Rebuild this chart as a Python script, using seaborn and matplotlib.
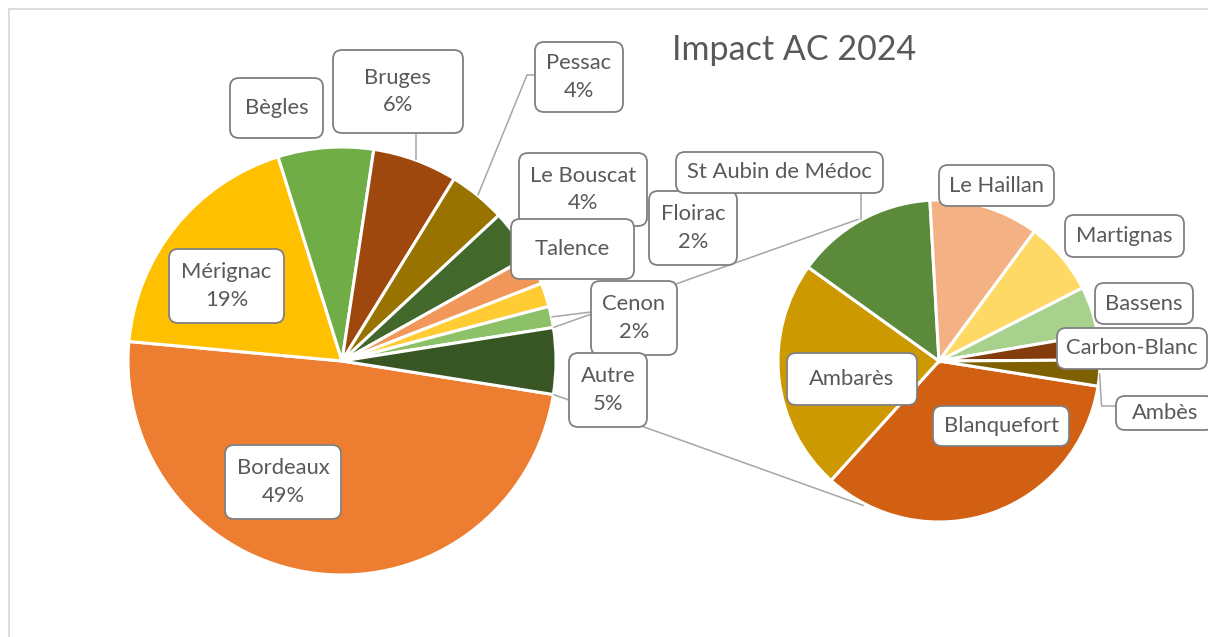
import matplotlib
matplotlib.use("Agg")
import matplotlib.pyplot as plt
import seaborn as sns
import numpy as np
from matplotlib.patches import FancyBboxPatch, Rectangle

# ---------------- data ----------------
title = "Impact AC 2024"
main_labels = ["Bordeaux", "Mérignac", "Bègles", "Bruges", "Pessac",
               "Le Bouscat", "Talence", "Floirac", "Cenon"]
main_values = [48.9, 18.7, 7.2, 6.4, 4.3, 3.8, 2.2, 1.8, 1.6]
main_show_pct = [True, True, False, True, True, True, False, True, True]
main_colors = ["#ED7D31", "#FFC000", "#70AD47", "#9E480E", "#997300",
               "#43682B", "#F1975A", "#FFCD33", "#8CC168"]
autre_label = "Autre"
autre_color = "#375623"
other_labels = ["Blanquefort", "Ambarès", "St Aubin de Médoc", "Le Haillan",
                "Martignas", "Bassens", "Carbon-Blanc", "Ambès"]
other_values = [1.71, 1.16, 0.71, 0.55, 0.37, 0.24, 0.13, 0.13]
other_colors = ["#D26012", "#CC9A00", "#5A8A3A", "#F4B183",
                "#FFD966", "#A9D18E", "#843C0C", "#7F6000"]

# ---------------- style ----------------
sns.set_theme(style="white")
plt.rcParams['font.family'] = ['Lato', 'DejaVu Sans']
TXT = "#595959"
EDGE = "#808080"
LEAD = "#A6A6A6"

W, H = 1208, 637
fig = plt.figure(figsize=(W / 100, H / 100), dpi=100)
ax = fig.add_axes([0, 0, 1, 1])


def P(x, y):
    return (x, H - y)


c1, r1 = P(342, 361), 214
c2, r2 = P(939, 361), 161

autre_value = sum(other_values)
vals1 = main_values + [autre_value]
cols1 = sns.color_palette(main_colors + [autre_color])
total = sum(vals1)
start1 = -0.5 * 360 * autre_value / total

wp = dict(edgecolor="white", linewidth=2.2)
w1, _ = ax.pie(vals1, colors=cols1, startangle=start1, counterclock=False,
               center=c1, radius=r1, wedgeprops=wp)
w2, _ = ax.pie(other_values, colors=sns.color_palette(other_colors),
               startangle=-9, counterclock=False, center=c2, radius=r2,
               wedgeprops=wp)


def edge(c, r, ang):
    a = np.deg2rad(ang)
    return (c[0] + r * np.cos(a), c[1] + r * np.sin(a))


def mid(w):
    return 0.5 * (w.theta1 + w.theta2)


def line(pts):
    xs = [p[0] for p in pts]
    ys = [p[1] for p in pts]
    ax.plot(xs, ys, color=LEAD, lw=1.1, zorder=3, solid_capstyle="butt")


# connectors between the two pies
wa = w1[-1]
top1 = edge(c1, r1, max(wa.theta1, wa.theta2))
bot1 = edge(c1, r1, min(wa.theta1, wa.theta2))
line([top1, edge(c2, r2 + 2, 119.5)])
line([bot1, edge(c2, r2 + 2, -117.5)])

# leader lines
idx = {l: i for i, l in enumerate(main_labels)}
oidx = {l: i for i, l in enumerate(other_labels)}
p = edge(c1, r1, mid(w1[idx["Bruges"]]))
line([p, (p[0], P(0, 133)[1])])
p = edge(c1, r1, mid(w1[idx["Pessac"]]))
line([p, P(527, 75), P(535, 75)])
p = edge(c1, r1, mid(w1[idx["Cenon"]]))
line([p, P(591, 312)])
p = edge(c2, r2, mid(w2[oidx["St Aubin de Médoc"]]))
line([p, (p[0], P(0, 193)[1])])
p = edge(c2, r2, mid(w2[oidx["Ambès"]]))
line([p, (p[0] + 2, P(0, 406)[1]), P(1116, 406)])
line([P(646, 220), P(650, 220)])

# label boxes (pixel layout: x0, y0, x1, y1)
boxes = {
    "Bordeaux": (225, 445, 341, 519),
    "Mérignac": (169, 249, 284, 323),
    "Bègles": (230, 78, 323, 138),
    "Bruges": (333, 50, 463, 133),
    "Pessac": (535, 42, 623, 112),
    "Le Bouscat": (519, 153, 647, 226),
    "Talence": (511, 219, 634, 279),
    "Floirac": (649, 191, 737, 265),
    "Cenon": (591, 281, 677, 355),
    "Autre": (569, 353, 647, 427),
    "Blanquefort": (933, 406, 1069, 446),
    "Ambarès": (787, 353, 917, 405),
    "St Aubin de Médoc": (676, 152, 883, 193),
    "Le Haillan": (939, 165, 1054, 206),
    "Martignas": (1065, 215, 1184, 257),
    "Bassens": (1095, 283, 1193, 324),
    "Carbon-Blanc": (1057, 328, 1207, 369),
    "Ambès": (1116, 396, 1214, 430),
}
order = ["Bordeaux", "Mérignac", "Bègles", "Bruges", "Pessac", "Le Bouscat",
         "Floirac", "Talence", "Cenon", "Autre", "St Aubin de Médoc",
         "Le Haillan", "Martignas", "Bassens", "Carbon-Blanc", "Ambès",
         "Ambarès", "Blanquefort"]

texts = {}
for lab, v, sp in zip(main_labels, main_values, main_show_pct):
    texts[lab] = f"{lab}\n{round(v / total * 100):.0f}%" if sp else lab
texts[autre_label] = f"{autre_label}\n{round(autre_value / total * 100):.0f}%"
for lab in other_labels:
    texts[lab] = lab

for z, lab in enumerate(order):
    x0, y0, x1, y1 = boxes[lab]
    bx, by = P(x0, y1)
    ax.add_patch(FancyBboxPatch((bx, by), x1 - x0, y1 - y0,
                                boxstyle="round,pad=0,rounding_size=9",
                                facecolor="white", edgecolor=EDGE, lw=1.3,
                                zorder=5 + 2 * z))
    cx, cy = P((x0 + x1) / 2, (y0 + y1) / 2)
    ax.text(cx, cy, texts[lab], ha="center", va="center", fontsize=15.8,
            color=TXT, linespacing=1.45, zorder=6 + 2 * z)

# title
ax.text(*P(794, 60), title, ha="center", va="baseline", fontsize=24.5,
        color=TXT)

# chart area border
ax.add_patch(Rectangle(P(8.5, 660), 1300, 660 - 9, fill=False,
                       edgecolor="#D9D9D9", lw=1.3, zorder=100))

ax.set_xlim(0, W)
ax.set_ylim(0, H)
ax.set_aspect("equal")
ax.axis("off")
fig.savefig("out.png", dpi=100)
